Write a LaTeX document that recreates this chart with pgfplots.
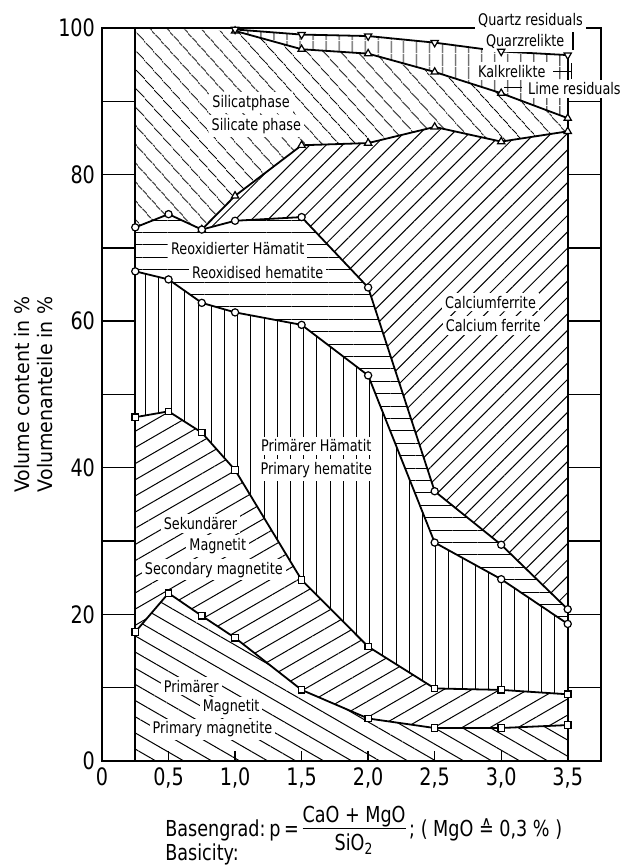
\documentclass[border=0pt]{standalone}
\usepackage{fontspec}
\setmainfont{DejaVu Sans}[FakeStretch=0.8]
\newfontfamily\ylabfont{DejaVu Sans}[FakeStretch=0.95]
\usepackage{pgfplots}
\pgfplotsset{compat=1.18}
\usetikzlibrary{patterns.meta}

\pgfplotsset{
  bnd/.style={black, line width=0.9pt, mark options={fill=white, solid, line width=0.6pt}},
}
\tikzset{lbl/.style={fill=white, inner sep=1.5pt, font=\fontsize{8}{9}\selectfont}}

\begin{document}
\begin{tikzpicture}
\begin{axis}[
  scale only axis,
  width=249.5pt, height=366.5pt,
  xmin=0, xmax=3.75, ymin=0, ymax=100,
  clip=false,
  axis line style={line width=0.75pt},
  xtick={0,0.5,1,1.5,2,2.5,3,3.5},
  xticklabels={0,{0,5},{1,0},{1,5},{2,0},{2,5},{3,0},{3,5}},
  ytick={0,20,40,60,80,100},
  minor ytick={10,30,50,70,90},
  tick align=inside,
  xtick pos=left,
  ytick pos=both,
  yticklabel pos=left,
  ytick style={/pgfplots/major tick length=16.6pt, /pgfplots/minor tick length=16.6pt, line width=0.7pt, black},
  xtick style={/pgfplots/major tick length=5pt, line width=0.7pt, black},
  tick label style={font=\fontsize{12}{13}\selectfont},
  /pgf/number format/assume math mode=true,
]
% ---------- areas ----------
% primary magnetite
\addplot[draw=none, mark=none, pattern={Lines[angle=-30,distance=7pt,line width=0.5pt]}]
 coordinates {(0.25,0) (0.25,17.6) (0.5,22.9) (0.75,19.8) (1,16.8) (1.5,9.7) (2,5.8) (2.5,4.5) (3,4.5) (3.5,4.9) (3.5,0)} -- cycle;
% secondary magnetite
\addplot[draw=none, mark=none, pattern={Lines[angle=30,distance=7pt,line width=0.5pt]}]
 coordinates {(0.25,46.9) (0.5,47.7) (0.75,44.8) (1,39.7) (1.5,24.7) (2,15.6) (2.5,9.9) (3,9.7) (3.5,9.1)
  (3.5,4.9) (3,4.5) (2.5,4.5) (2,5.8) (1.5,9.7) (1,16.8) (0.75,19.8) (0.5,22.9) (0.25,17.6)} -- cycle;
% primary hematite
\addplot[draw=none, mark=none, pattern={Lines[angle=90,distance=6.6pt,line width=0.5pt]}]
 coordinates {(0.25,66.8) (0.5,65.7) (0.75,62.5) (1,61.2) (1.5,59.5) (2,52.6) (2.5,29.8) (3,24.8) (3.5,18.7)
  (3.5,9.1) (3,9.7) (2.5,9.9) (2,15.6) (1.5,24.7) (1,39.7) (0.75,44.8) (0.5,47.7) (0.25,46.9)} -- cycle;
% reoxidised hematite
\addplot[draw=none, mark=none, pattern={Lines[angle=0,distance=6.2pt,line width=0.5pt]}]
 coordinates {(0.25,72.8) (0.5,74.6) (0.75,72.5) (1,73.7) (1.5,74.2) (2,64.6) (2.5,36.8) (3,29.5) (3.5,20.7)
  (3.5,18.7) (3,24.8) (2.5,29.8) (2,52.6) (1.5,59.5) (1,61.2) (0.75,62.5) (0.5,65.7) (0.25,66.8)} -- cycle;
% calcium ferrite
\addplot[draw=none, mark=none, pattern={Lines[angle=45,distance=5.8pt,line width=0.5pt]}]
 coordinates {(0.75,72.5) (1,77.1) (1.5,84.0) (2,84.3) (2.5,86.5) (3,84.5) (3.5,85.9)
  (3.5,20.7) (3,29.5) (2.5,36.8) (2,64.6) (1.5,74.2) (1,73.7)} -- cycle;
% silicate phase
\addplot[draw=none, mark=none, pattern={Lines[angle=-48,distance=6.5pt,line width=0.5pt]}]
 coordinates {(0.25,100) (1,99.6) (1.5,97.1) (2,96.5) (2.5,94.0) (3,91.1) (3.5,87.7)
  (3.5,85.9) (3,84.5) (2.5,86.5) (2,84.3) (1.5,84.0) (1,77.1) (0.75,72.5) (0.5,74.6) (0.25,72.8)} -- cycle;
% lime residuals
\addplot[draw=none, mark=none, pattern={Lines[angle=90,distance=6.5pt,line width=0.5pt]}]
 coordinates {(1,99.8) (1.5,99.1) (2,98.9) (2.5,98.0) (3,96.8) (3.5,96.3)
  (3.5,87.7) (3,91.1) (2.5,94.0) (2,96.5) (1.5,97.1) (1,99.6)} -- cycle;

% ---------- edges ----------
\addplot[black, line width=0.9pt, mark=none] coordinates {(0.25,0) (0.25,100)};
\addplot[black, line width=0.9pt, mark=none] coordinates {(3.5,0) (3.5,96.3)};

% ---------- boundaries ----------
\addplot[bnd, mark=square*, mark size=1.6pt]
 coordinates {(0.25,17.6) (0.5,22.9) (0.75,19.8) (1,16.8) (1.5,9.7) (2,5.8) (2.5,4.5) (3,4.5) (3.5,4.9)};
\addplot[bnd, mark=square*, mark size=1.6pt]
 coordinates {(0.25,46.9) (0.5,47.7) (0.75,44.8) (1,39.7) (1.5,24.7) (2,15.6) (2.5,9.9) (3,9.7) (3.5,9.1)};
\addplot[bnd, mark=*, mark size=1.8pt]
 coordinates {(0.25,66.8) (0.5,65.7) (0.75,62.5) (1,61.2) (1.5,59.5) (2,52.6) (2.5,29.8) (3,24.8) (3.5,18.7)};
\addplot[bnd, mark=triangle*, mark size=2.1pt]
 coordinates {(0.75,72.5) (1,77.1) (1.5,84.0) (2,84.3) (2.5,86.5) (3,84.5) (3.5,85.9)};
\addplot[bnd, mark=*, mark size=1.8pt]
 coordinates {(0.25,72.8) (0.5,74.6) (0.75,72.5) (1,73.7) (1.5,74.2) (2,64.6) (2.5,36.8) (3,29.5) (3.5,20.7)};
\addplot[bnd, mark=triangle*, mark size=2.1pt]
 coordinates {(1,99.6) (1.5,97.1) (2,96.5) (2.5,94.0) (3,91.1) (3.5,87.7)};
\addplot[black, line width=0.9pt, mark=triangle*, mark size=2.1pt, mark options={fill=white, solid, line width=0.6pt, rotate=180}]
 coordinates {(1,99.8) (1.5,99.1) (2,98.9) (2.5,98.0) (3,96.8) (3.5,96.3)};

% ---------- labels ----------
\node[lbl, anchor=base, inner ysep=2.5pt] at (axis cs:3.22,100.4) {Quartz residuals};
\node[lbl] at (axis cs:3.18,98.1) {Quarzrelikte};
\draw[line width=0.6pt] (axis cs:3.54,99.4) -- (axis cs:3.54,97.0);
\node[lbl] at (axis cs:3.08,94.1) {Kalkrelikte};
\draw[line width=0.6pt] (axis cs:3.39,94.1) -- (axis cs:3.53,94.1);
\draw[line width=0.6pt] (axis cs:3.53,95.2) -- (axis cs:3.53,93.0);
\node[lbl] at (axis cs:3.55,91.7) {Lime residuals};
\draw[line width=0.6pt] (axis cs:3.02,91.9) -- (axis cs:3.16,91.9);

\node[lbl] at (axis cs:1.12,89.8) {Silicatphase};
\node[lbl] at (axis cs:1.16,86.6) {Silicate phase};
\node[lbl] at (axis cs:1.02,69.9) {Reoxidierter Hämatit};
\node[lbl] at (axis cs:1.17,66.6) {Reoxidised hematite};
\node[lbl] at (axis cs:2.92,62.6) {Calciumferrite};
\node[lbl] at (axis cs:2.94,59.4) {Calcium ferrite};
\node[lbl] at (axis cs:1.61,43.0) {Primärer Hämatit};
\node[lbl] at (axis cs:1.61,39.7) {Primary hematite};
\node[lbl] at (axis cs:0.74,32.4) {Sekundärer};
\node[lbl] at (axis cs:0.87,29.3) {Magnetit};
\node[lbl] at (axis cs:0.84,26.1) {Secondary magnetite};
\node[lbl] at (axis cs:0.67,10.2) {Primärer};
\node[lbl] at (axis cs:0.97,7.3) {Magnetit};
\node[lbl] at (axis cs:0.83,4.3) {Primary magnetite};

% ---------- axis titles ----------
\node[rotate=90, align=center, font=\ylabfont\fontsize{10}{11.5}\selectfont]
  at (axis description cs:-0.137,0.5) {Volume content in \%\\Volumenanteile in \%};
\node[anchor=north west, inner sep=0pt, font=\fontsize{11}{13}\selectfont]
  at (axis description cs:0.126,-0.058)
  {\begin{tabular}{@{}l@{}}
   Basengrad:\,p\,=\,\begin{tabular}[c]{@{}c@{}}CaO + MgO\\[-1pt]\hline\rule{0pt}{11pt}SiO\textsubscript{2}\end{tabular}\,;\ ( MgO ≙ 0,3 \% )\\[-8pt]
   Basicity:
   \end{tabular}};

\coordinate (sw) at (rel axis cs:0,0);
\coordinate (ne) at (rel axis cs:1,1);
\end{axis}
\pgfresetboundingbox
\path[use as bounding box] ([shift={(-51pt,-52pt)}]sw) rectangle ([shift={(11pt,14pt)}]ne);
\end{tikzpicture}
\end{document}
